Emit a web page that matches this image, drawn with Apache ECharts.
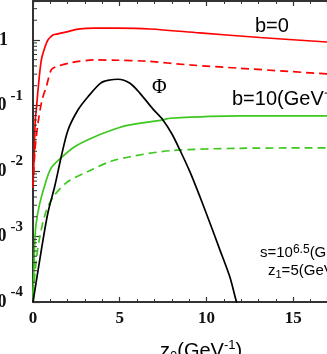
<!DOCTYPE html>
<html>
<head>
<meta charset="utf-8">
<style>
  html, body { margin: 0; padding: 0; background: #fff; }
  #main { width: 327px; height: 354px; }
</style>
<script src="https://cdn.jsdelivr.net/npm/echarts@6/dist/echarts.min.js"></script>
</head>
<body>
<div id="main"></div>
<script>
// b=0, solid (red)
const zRedSolid = [0, 0.06, 0.13, 0.19, 0.29, 0.48, 0.69, 0.86, 1.15, 1.44, 2.02, 2.59, 3.56, 4.9, 6.74, 9.62, 13.08, 16.95];
const redSolid = [0.0062, 0.0148, 0.060, 0.085, 0.174, 0.495, 0.78, 1.0, 1.19, 1.24, 1.34, 1.46, 1.51, 1.51, 1.47, 1.28, 1.09, 0.93];
// b=0, dashed (red)
const zRedDash = [0, 0.115, 0.29, 0.52, 0.77, 1.05, 1.34, 2.21, 3.56, 4.9, 6.5, 9.05, 11.93, 16.95];
const redDash = [0.0055, 0.021, 0.054, 0.121, 0.194, 0.348, 0.391, 0.45, 0.495, 0.49, 0.475, 0.415, 0.37, 0.303];
// b=10, solid (green)
const zGreenSolid = [0, 0.06, 0.1, 0.17, 0.39, 0.77, 1.05, 1.54, 2.4, 3.56, 4.9, 5.59, 7.49, 7.9, 11.93, 16.95];
const greenSolid = [1.05e-4, 3.6e-4, 7.9e-4, 0.0015, 0.0032, 0.0073, 0.0111, 0.0152, 0.0235, 0.0334, 0.0453, 0.0504, 0.0601, 0.0638, 0.0692, 0.0692];
// b=10, dashed (green)
const zGreenDash = [0, 0.19, 0.39, 0.77, 1.25, 2.02, 3.17, 4.44, 5.59, 7.9, 11.93, 16.95];
const greenDash = [1.3e-4, 4.4e-4, 9.8e-4, 0.0025, 0.0043, 0.0069, 0.0098, 0.0139, 0.0165, 0.0204, 0.0222, 0.0225];
// Phi (black)
const zPhi = [0, 0.48, 0.86, 1.25, 1.63, 2.02, 2.59, 3.17, 3.92, 4.44, 4.9, 5.59, 6.17, 6.92, 7.49, 8.01, 8.47, 9.05, 9.63, 10.2, 10.78, 11.35, 11.7, 11.76];
const phi = [1.0e-4, 6.2e-4, 0.0023, 0.0058, 0.0166, 0.0423, 0.0853, 0.136, 0.221, 0.245, 0.251, 0.218, 0.153, 0.088, 0.0601, 0.0367, 0.0209, 0.00966, 0.0040, 0.00161, 6.2e-4, 2.4e-4, 1.07e-4, 9.5e-5];

// minor log ticks on the left axis
const minorTickVals = [];
[1e-4, 1e-3, 1e-2, 1e-1, 1].forEach(d => {
  for (let k = 2; k <= 9; k++) {
    if (d * k < 3.9) minorTickVals.push(d * k);
  }
});

const zip = (xs, ys) => xs.map((x, i) => [x, ys[i]]);

const chart = echarts.init(document.getElementById('main'));

const axisColor = '#333';
const numFont = 'Liberation Serif';
const txtFont = 'Liberation Sans';

function lineSeries(xs, ys, color, dashed) {
  return {
    type: 'line',
    data: zip(xs, ys),
    showSymbol: false,
    smooth: 0.3,
    lineStyle: { color: color, width: 1.7, type: dashed ? [8, 5] : 'solid' },
    silent: true,
    z: 3
  };
}

const option = {
  animation: false,
  grid: { left: 33, right: 0, top: 1, bottom: 52, outerBoundsMode: 'none', containLabel: false },
  xAxis: [
    {
      type: 'value',
      min: 0,
      max: 16.95,
      interval: 5,
      axisLine: { lineStyle: { color: axisColor, width: 2 } },
      axisTick: { inside: true, length: 5, lineStyle: { color: axisColor, width: 1.2 } },
      minorTick: { show: true, splitNumber: 5, length: 3, lineStyle: { color: axisColor, width: 1 } },
      splitLine: { show: false },
      axisLabel: {
        margin: 8,
        color: '#111',
        fontFamily: numFont,
        fontWeight: 'bold',
        fontSize: 17,
        showMaxLabel: false
      }
    },
    {
      type: 'value',
      position: 'top',
      min: 0,
      max: 16.95,
      interval: 5,
      axisLine: { lineStyle: { color: axisColor, width: 2 } },
      axisTick: { inside: true, length: 5, lineStyle: { color: axisColor, width: 1.2 } },
      minorTick: { show: true, splitNumber: 5, length: 3, lineStyle: { color: axisColor, width: 1 } },
      splitLine: { show: false },
      axisLabel: { show: false }
    }
  ],
  yAxis: {
    type: 'log',
    logBase: 10,
    min: 1e-4,
    max: 3.93,
    axisLine: { show: true, lineStyle: { color: axisColor, width: 2 } },
    axisTick: { inside: true, length: 7, lineStyle: { color: axisColor, width: 1.2 } },
    splitLine: { show: false },
    axisLabel: {
      margin: 10,
      formatter: function (v) {
        const e = Math.log10(v);
        const r = Math.round(e);
        if (Math.abs(e - r) > 1e-6) return '';
        if (r === 0) return '{b|1}{g| }';
        return '{b|10}{s|' + r + '}';
      },
      rich: {
        b: { fontFamily: numFont, fontWeight: 'bold', fontSize: 18, color: '#111', lineHeight: 34, verticalAlign: 'middle' },
        s: { fontFamily: numFont, fontWeight: 'bold', fontSize: 15, color: '#111', lineHeight: 12, verticalAlign: 'top', padding: [0, 0, 0, 4] },
        g: { width: 15, fontSize: 12 }
      }
    }
  },
  graphic: [
    { type: 'text', x: 255, y: 26, silent: true,
      style: { text: 'b=0', font: '20px ' + txtFont, fill: '#000', verticalAlign: 'middle' } },
    { type: 'text', x: 232, y: 99, silent: true,
      style: { text: 'b=10(GeV\u207B\u00B9)', font: '20px ' + txtFont, fill: '#000', verticalAlign: 'middle' } },
    { type: 'text', x: 152, y: 88, silent: true,
      style: { text: '\u03A6', font: '20px ' + numFont, fill: '#000', verticalAlign: 'middle' } },
    { type: 'text', x: 260, y: 253, silent: true,
      style: {
        text: '{a|s=10}{p|6.5}{a|(GeV)}',
        verticalAlign: 'middle',
        rich: {
          a: { fontFamily: txtFont, fontSize: 15, color: '#000', lineHeight: 18 },
          p: { fontFamily: txtFont, fontSize: 12, color: '#000', lineHeight: 10, verticalAlign: 'top' }
        }
      } },
    { type: 'text', x: 268, y: 271, silent: true,
      style: {
        text: '{a|z}{d|1}{a|=5(GeV)}',
        verticalAlign: 'middle',
        rich: {
          a: { fontFamily: txtFont, fontSize: 15, color: '#000', lineHeight: 18 },
          d: { fontFamily: txtFont, fontSize: 11, color: '#000', lineHeight: 10, verticalAlign: 'bottom' }
        }
      } },
    { type: 'text', x: 160, y: 351, silent: true,
      style: {
        text: '{a|z}{d|0}{a|(GeV}{p|-1}{a|)}',
        verticalAlign: 'middle',
        rich: {
          a: { fontFamily: txtFont, fontSize: 20, color: '#000', lineHeight: 24 },
          d: { fontFamily: txtFont, fontSize: 13, color: '#000', lineHeight: 12, verticalAlign: 'bottom' },
          p: { fontFamily: txtFont, fontSize: 13, color: '#000', lineHeight: 12, verticalAlign: 'top' }
        }
      } }
  ],
  series: [
    lineSeries(zRedSolid, redSolid, '#ff0000', false),
    lineSeries(zRedDash, redDash, '#ff0000', true),
    lineSeries(zGreenSolid, greenSolid, '#3cc81e', false),
    lineSeries(zGreenDash, greenDash, '#3cc81e', true),
    lineSeries(zPhi, phi, '#000000', false),
    {
      type: 'custom',
      silent: true,
      clip: false,
      data: minorTickVals.map(v => [0, v]),
      encode: { x: 0, y: 1 },
      renderItem: function (params, api) {
        const p = api.coord([0, api.value(1)]);
        return {
          type: 'line',
          shape: { x1: p[0], y1: p[1], x2: p[0] + 4, y2: p[1] },
          style: { stroke: axisColor, lineWidth: 1 }
        };
      },
      z: 5
    }
  ]
};

chart.setOption(option);
</script>
</body>
</html>
